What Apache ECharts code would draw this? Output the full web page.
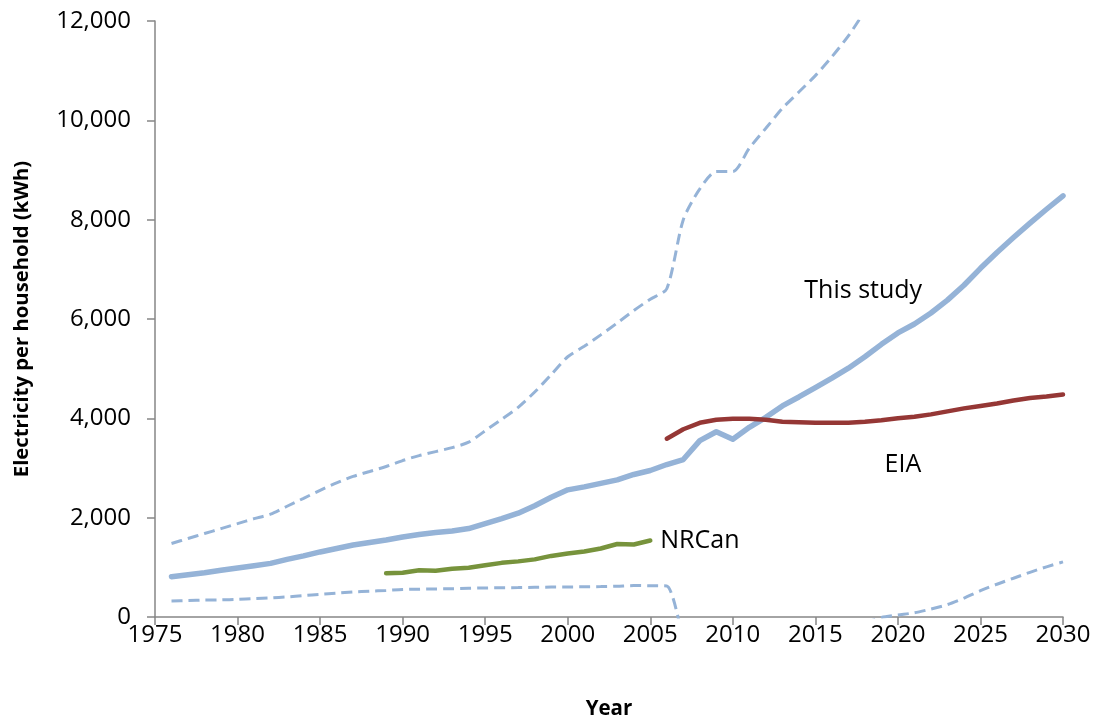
<!DOCTYPE html>
<html>
<head>
<meta charset="utf-8">
<script src="https://cdn.jsdelivr.net/npm/echarts@6/dist/echarts.min.js"></script>
<style>
html,body{margin:0;padding:0;background:#fff;}
#c{width:1098px;height:725px;}
</style>
</head>
<body>
<div id="c"></div>
<script>
// ---- data ----
const studyYears = [1976,1977,1978,1979,1980,1981,1982,1983,1984,1985,1986,1987,1988,1989,1990,1991,1992,1993,1994,1995,1996,1997,1998,1999,2000,2001,2002,2003,2004,2005,2006,2007,2008,2009,2010,2011,2012,2013,2014,2015,2016,2017,2018,2019,2020,2021,2022,2023,2024,2025,2026,2027,2028,2029,2030];
const studyValues = [810,850,890,940,985,1030,1080,1160,1230,1310,1380,1450,1500,1550,1610,1660,1700,1730,1780,1880,1980,2090,2240,2410,2560,2620,2690,2760,2870,2950,3070,3170,3550,3730,3580,3820,4020,4250,4430,4620,4810,5010,5240,5490,5720,5900,6120,6380,6680,7020,7340,7640,7930,8210,8480];

const upperYears = [1976,1977,1978,1979,1980,1981,1982,1983,1984,1985,1986,1987,1988,1989,1990,1991,1992,1993,1994,1995,1996,1997,1998,1999,2000,2001,2002,2003,2004,2005,2006,2007,2008,2009,2010,2011,2012,2013,2014,2015,2016,2017,2018];
const upperValues = [1480,1580,1680,1780,1880,1980,2070,2230,2390,2550,2700,2830,2930,3030,3150,3250,3330,3410,3520,3750,3980,4220,4530,4880,5240,5450,5680,5920,6170,6400,6610,8000,8620,8970,8970,9440,9840,10240,10570,10900,11280,11700,12200];

const lowerYears = studyYears;
const lowerValues = [320,330,340,345,355,370,385,405,430,455,480,505,520,535,553,560,565,570,578,585,588,592,598,602,605,608,612,620,633,630,625,-520,null,null,null,null,null,null,null,null,null,null,-120,-10,40,85,160,250,380,530,660,780,900,1010,1110];

const eiaYears = [2006,2007,2008,2009,2010,2011,2012,2013,2014,2015,2016,2017,2018,2019,2020,2021,2022,2023,2024,2025,2026,2027,2028,2029,2030];
const eiaValues = [3590,3780,3910,3970,3990,3990,3970,3930,3920,3910,3910,3910,3930,3960,4000,4030,4080,4140,4200,4250,4300,4360,4410,4440,4480];

const nrcanYears = [1989,1990,1991,1992,1993,1994,1995,1996,1997,1998,1999,2000,2001,2002,2003,2004,2005];
const nrcanValues = [880,890,940,930,970,990,1040,1090,1120,1160,1230,1280,1320,1380,1470,1460,1540];

const xTicks = [1975,1980,1985,1990,1995,2000,2005,2010,2015,2020,2025,2030];
const yTicks = [0,2000,4000,6000,8000,10000,12000];

// label anchors (data coordinates)
const studyLabel = {text: 'This study', at: [2017.9, 6570]};
const eiaLabel = {text: 'EIA', at: [2020.3, 3055]};
const nrcanLabel = 'NRCan';

function pairs(xs, ys){ return xs.map((x,i)=>[x, ys[i]]); }

const FONT = 'Open Sans';
const BLUE = '#95B3D7', RED = '#953735', GREEN = '#77933C', AXIS = '#868686';

const chart = echarts.init(document.getElementById('c'), null, {renderer:'canvas'});
chart.setOption({
  animation: false,
  backgroundColor: '#fff',
  grid: {left: 155, right: 35, top: 21, bottom: 104, containLabel: false},
  xAxis: {
    type: 'value',
    min: xTicks[0], max: xTicks[xTicks.length-1], interval: 5,
    name: 'Year', nameLocation: 'middle', nameGap: 82,
    nameTextStyle: {fontFamily: FONT, fontWeight: 'bold', fontSize: 20.5, color: '#000'},
    axisLine: {show: true, onZero: false, lineStyle: {color: AXIS, width: 1.5}},
    axisTick: {show: true, inside: false, length: 8, lineStyle: {color: AXIS, width: 1.5}},
    axisLabel: {fontFamily: FONT, fontSize: 24, color: '#000', margin: 6,
      formatter: v => String(v)},
    splitLine: {show: false}
  },
  yAxis: {
    type: 'value',
    min: yTicks[0], max: yTicks[yTicks.length-1], interval: 2000,
    name: 'Electricity per household (kWh)', nameLocation: 'middle', nameGap: 123,
    nameTextStyle: {fontFamily: FONT, fontWeight: 'bold', fontSize: 20.3, color: '#000'},
    axisLine: {show: true, lineStyle: {color: AXIS, width: 1.5}},
    axisTick: {show: true, inside: false, length: 8, lineStyle: {color: AXIS, width: 1.5}},
    axisLabel: {fontFamily: FONT, fontSize: 24, color: '#000', margin: 24,
      formatter: v => v.toLocaleString('en-US')},
    splitLine: {show: false}
  },
  series: [
    {
      name: 'Upper', type: 'line', data: pairs(upperYears, upperValues),
      showSymbol: false, smooth: 0.25, clip: true,
      lineStyle: {color: BLUE, width: 3, type: [11, 6]}
    },
    {
      name: 'Lower', type: 'line', data: pairs(lowerYears, lowerValues),
      showSymbol: false, smooth: 0.25, clip: true, connectNulls: false,
      lineStyle: {color: BLUE, width: 3, type: [11, 6]}
    },
    {
      name: 'This study', type: 'line', data: pairs(studyYears, studyValues),
      showSymbol: false, clip: true,
      lineStyle: {color: BLUE, width: 5.5, cap: 'round', join: 'round'},
      markPoint: {
        symbol: 'circle', symbolSize: 1, itemStyle: {color: 'rgba(0,0,0,0)'},
        label: {show: true, position: 'inside', formatter: studyLabel.text,
          fontFamily: FONT, fontSize: 25, color: '#000'},
        data: [{coord: studyLabel.at}]
      }
    },
    {
      name: 'NRCan', type: 'line', data: pairs(nrcanYears, nrcanValues),
      showSymbol: false, clip: true,
      lineStyle: {color: GREEN, width: 4.5, cap: 'round', join: 'round'},
      endLabel: {show: true, formatter: nrcanLabel, distance: 10,
        fontFamily: FONT, fontSize: 25, color: '#000'}
    },
    {
      name: 'EIA', type: 'line', data: pairs(eiaYears, eiaValues),
      showSymbol: false, clip: true,
      lineStyle: {color: RED, width: 4.5, cap: 'round', join: 'round'},
      markPoint: {
        symbol: 'circle', symbolSize: 1, itemStyle: {color: 'rgba(0,0,0,0)'},
        label: {show: true, position: 'inside', formatter: eiaLabel.text,
          fontFamily: FONT, fontSize: 25, color: '#000'},
        data: [{coord: eiaLabel.at}]
      }
    }
  ]
});
</script>
</body>
</html>
